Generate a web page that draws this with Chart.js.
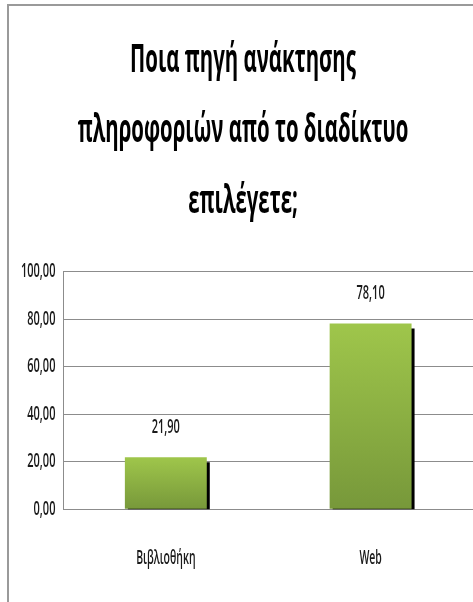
<!DOCTYPE html>
<html lang="el">
<head>
  <meta charset="UTF-8">
  <title>Ποια πηγή ανάκτησης πληροφοριών</title>
  <script src="https://cdn.jsdelivr.net/npm/chart.js"></script>
  <style>
    body { margin: 0; background: #fff; }
    /* πλαίσιο γραφήματος: μόνο αριστερή και πάνω γραμμή φαίνονται */
    .frame {
      position: absolute;
      left: 7px;
      top: 4px;
      width: 466px;
      height: 598px;
      border-left: 2px solid #9a9a9a;
      border-top: 2px solid #9a9a9a;
    }
    #chart { display: block; }
  </style>
</head>
<body>
  <div class="frame">
    <canvas id="chart" width="464" height="596"></canvas>
  </div>

  <script>
    const categories = ['Βιβλιοθήκη', 'Web'];
    const percentages = [21.90, 78.10];
    const yTicks = [0, 20, 40, 60, 80, 100];
    const titleLines = ['Ποια πηγή ανάκτησης', 'πληροφοριών από το διαδίκτυο', 'επιλέγετε;'];

    const FONT = "'Open Sans', 'Noto Sans', sans-serif";
    // οριζόντια συμπίεση κειμένου (στενή γραμματοσειρά)
    const SX_TITLE = 0.51;
    const SX_TEXT = 0.55;
    const fmt = v => v.toFixed(2).replace('.', ',');

    // στενό κείμενο: κάθε fillText / measureText συμπιέζεται οριζόντια
    function condenseText(ctx) {
      const fill = ctx.fillText.bind(ctx);
      const measure = ctx.measureText.bind(ctx);
      const sx = () => (/bold/.test(ctx.font) ? SX_TITLE : SX_TEXT);
      ctx.fillText = function (text, x, y, maxWidth) {
        const s = sx();
        this.save();
        this.translate(x, y);
        this.scale(s, 1);
        if (maxWidth === undefined) fill(text, 0, 0);
        else fill(text, 0, 0, maxWidth / s);
        this.restore();
      };
      ctx.measureText = function (text) {
        const m = measure(text);
        const s = sx();
        return {
          width: m.width * s,
          actualBoundingBoxLeft: m.actualBoundingBoxLeft * s,
          actualBoundingBoxRight: m.actualBoundingBoxRight * s,
          actualBoundingBoxAscent: m.actualBoundingBoxAscent,
          actualBoundingBoxDescent: m.actualBoundingBoxDescent,
          fontBoundingBoxAscent: m.fontBoundingBoxAscent,
          fontBoundingBoxDescent: m.fontBoundingBoxDescent
        };
      };
    }

    // σκιά δεξιά από κάθε στήλη
    const barShadow = {
      id: 'barShadow',
      beforeDatasetDraw(chart) {
        const ctx = chart.ctx;
        ctx.save();
        ctx.shadowColor = '#000';
        ctx.shadowOffsetX = 3;
        ctx.shadowOffsetY = 5;
        ctx.shadowBlur = 0;
      },
      afterDatasetDraw(chart) {
        chart.ctx.restore();
      }
    };

    // ετικέτες τιμών πάνω από τις στήλες
    const valueLabels = {
      id: 'valueLabels',
      afterDatasetsDraw(chart) {
        const ctx = chart.ctx;
        const meta = chart.getDatasetMeta(0);
        ctx.save();
        ctx.font = '600 20px ' + FONT;
        ctx.fillStyle = '#1a1a1a';
        ctx.textAlign = 'center';
        ctx.textBaseline = 'middle';
        meta.data.forEach((bar, i) => {
          ctx.fillText(fmt(percentages[i]), bar.x, bar.y - 30);
        });
        ctx.restore();
      }
    };

    const ctx = document.getElementById('chart').getContext('2d');
    condenseText(ctx);

    new Chart(ctx, {
      type: 'bar',
      data: {
        labels: categories,
        datasets: [{
          data: percentages,
          backgroundColor: (c) => {
            const chart = c.chart;
            const area = chart.chartArea;
            if (!area || c.raw === undefined) return '#8cb043';
            const top = chart.scales.y.getPixelForValue(c.raw);
            const g = chart.ctx.createLinearGradient(0, top, 0, area.bottom);
            g.addColorStop(0, '#9fc64b');
            g.addColorStop(1, '#77983a');
            return g;
          },
          borderWidth: 0,
          categoryPercentage: 1,
          barPercentage: 0.4,
          clip: 0
        }]
      },
      options: {
        responsive: false,
        animation: false,
        layout: { padding: { left: 4, right: 0, top: 0, bottom: -6 } },
        plugins: {
          legend: { display: false },
          tooltip: { enabled: false },
          title: {
            display: true,
            text: titleLines,
            color: '#000',
            font: { family: FONT, size: 40, weight: 'bold', lineHeight: 1.7625 },
            padding: { top: 19, bottom: 35 }
          }
        },
        scales: {
          x: {
            grid: { display: false, drawTicks: false },
            border: { display: false },
            ticks: { color: '#1a1a1a', font: { family: FONT, size: 19, weight: '600' }, padding: 38 }
          },
          y: {
            min: 0,
            max: 100,
            afterBuildTicks: (axis) => { axis.ticks = yTicks.map(v => ({ value: v })); },
            grid: { color: '#8c8c8c', drawTicks: false },
            border: { display: true, color: '#8c8c8c' },
            ticks: {
              color: '#1a1a1a',
              font: { family: FONT, size: 20, weight: '600' },
              padding: 8,
              callback: v => fmt(v)
            }
          }
        }
      },
      plugins: [barShadow, valueLabels]
    });
  </script>
</body>
</html>
